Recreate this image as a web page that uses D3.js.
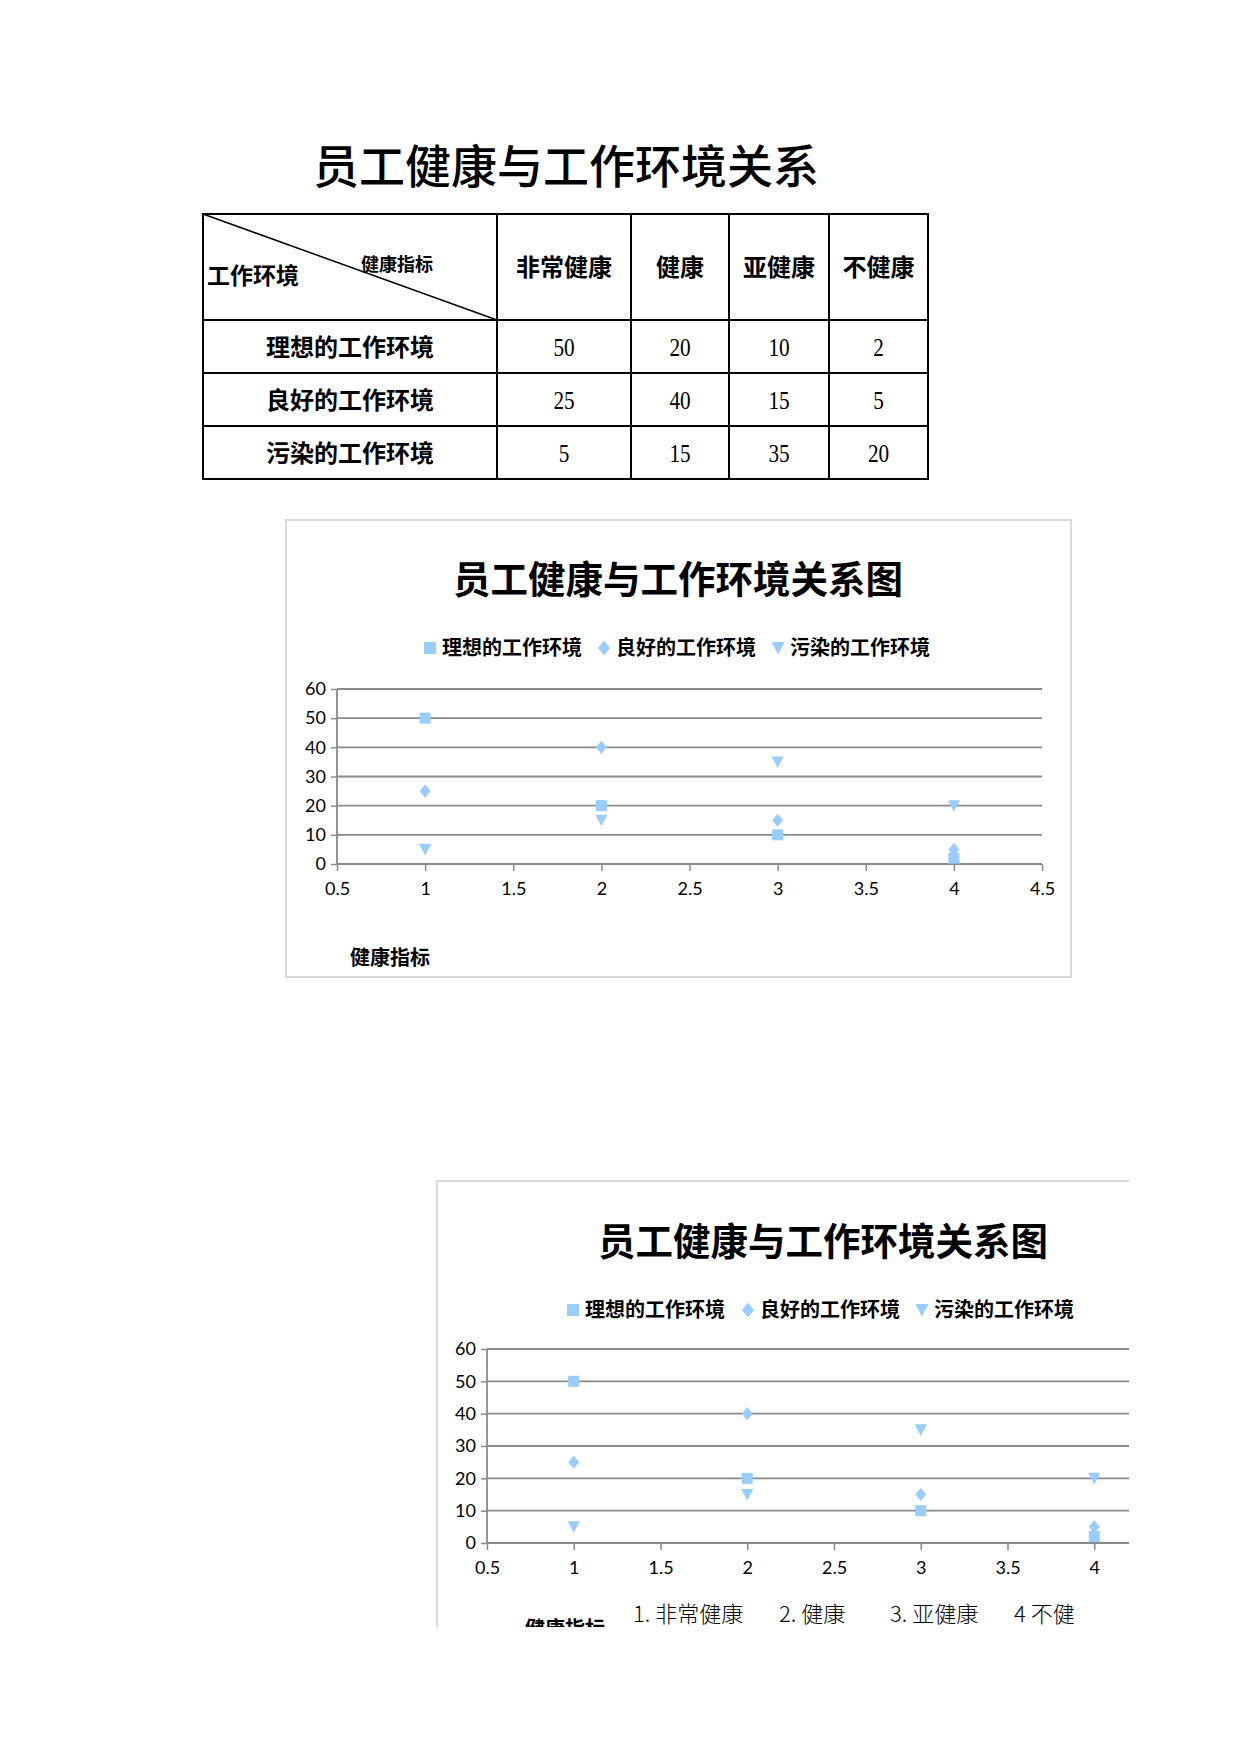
<!DOCTYPE html>
<html><head><meta charset="utf-8">
<script src="https://cdn.jsdelivr.net/npm/d3@7/dist/d3.min.js"></script>
<style>
html,body{margin:0;padding:0;background:#fff;}
svg{display:block;}
</style></head>
<body>
<svg id="page" width="1240" height="1754"></svg>
<script>
// ---- data ----
const pageTitle = "员工健康与工作环境关系";
const chartTitle = "员工健康与工作环境关系图";
const healthLevels = ["非常健康", "健康", "亚健康", "不健康"];
const environments = ["理想的工作环境", "良好的工作环境", "污染的工作环境"];
const idealValues = [50, 20, 10, 2];
const goodValues = [25, 40, 15, 5];
const pollutedValues = [5, 15, 35, 20];
const xPositions = [1, 2, 3, 4];
const xTicks = [0.5, 1, 1.5, 2, 2.5, 3, 3.5, 4, 4.5];
const yTicks = [0, 10, 20, 30, 40, 50, 60];
const axisTitle = "健康指标";
const cornerTop = "健康指标";
const cornerLeft = "工作环境";
const noteLabels = ["1. 非常健康", "2. 健康", "3. 亚健康", "4 不健"];

const seriesList = [
  {name: environments[0], values: idealValues, shape: "square"},
  {name: environments[1], values: goodValues, shape: "diamond"},
  {name: environments[2], values: pollutedValues, shape: "tri"}
];

const CJK = "'Noto Sans CJK SC','Noto Sans',sans-serif";
const LAT = "Lato,'Noto Sans',sans-serif";
const SERIF = "'Liberation Serif','DejaVu Serif',serif";
const MARK = "#99ccff";
const GRID = "#8a8a8a";

const svg = d3.select("#page");

// ---- page title ----
svg.append("text").attr("x", 566).attr("y", 183).attr("text-anchor", "middle")
  .attr("font-family", CJK).attr("font-weight", 500).attr("font-size", 46)
  .attr("fill", "#000").text(pageTitle);

// ---- table ----
const colEdges = [203, 497, 631, 729, 829, 928];
const rowEdges = [214, 320, 373, 426, 479];
const allRows = [idealValues, goodValues, pollutedValues];
const tg = svg.append("g");
tg.append("rect").attr("x", colEdges[0]).attr("y", rowEdges[0])
  .attr("width", colEdges[5] - colEdges[0]).attr("height", rowEdges[4] - rowEdges[0])
  .attr("fill", "none").attr("stroke", "#000").attr("stroke-width", 2);
colEdges.slice(1, 5).forEach(x => tg.append("line").attr("x1", x).attr("x2", x)
  .attr("y1", rowEdges[0]).attr("y2", rowEdges[4]).attr("stroke", "#000").attr("stroke-width", 2));
rowEdges.slice(1, 4).forEach(y => tg.append("line").attr("x1", colEdges[0]).attr("x2", colEdges[5])
  .attr("y1", y).attr("y2", y).attr("stroke", "#000").attr("stroke-width", 2));
tg.append("line").attr("x1", colEdges[0]).attr("y1", rowEdges[0]).attr("x2", colEdges[1]).attr("y2", rowEdges[1])
  .attr("stroke", "#000").attr("stroke-width", 1.5);
tg.append("text").attr("x", 361).attr("y", 271).attr("font-family", CJK).attr("font-weight", 700)
  .attr("font-size", 18).text(cornerTop);
tg.append("text").attr("x", 207).attr("y", 284).attr("font-family", CJK).attr("font-weight", 700)
  .attr("font-size", 23).text(cornerLeft);
healthLevels.forEach((h, i) => {
  tg.append("text").attr("x", (colEdges[i + 1] + colEdges[i + 2]) / 2).attr("y", 276)
    .attr("text-anchor", "middle").attr("font-family", CJK).attr("font-weight", 700)
    .attr("font-size", 24).text(h);
});
environments.forEach((e, r) => {
  const cy = (rowEdges[r + 1] + rowEdges[r + 2]) / 2;
  tg.append("text").attr("x", (colEdges[0] + colEdges[1]) / 2).attr("y", cy + 9)
    .attr("text-anchor", "middle").attr("font-family", CJK).attr("font-weight", 700)
    .attr("font-size", 24).text(e);
  allRows[r].forEach((v, c) => {
    const cx = (colEdges[c + 1] + colEdges[c + 2]) / 2;
    tg.append("text").attr("x", 0).attr("y", 0)
      .attr("text-anchor", "middle").attr("font-family", SERIF)
      .attr("font-size", 25)
      .attr("transform", `translate(${cx},${cy + 9}) scale(0.85,1)`).text(v);
  });
});

// ---- marker helper ----
function drawMarker(g, shape, x, y, s) {
  if (shape === "diamond") {
    g.append("path").attr("d", `M${x},${y - s * 0.6}L${x + s * 0.5},${y}L${x},${y + s * 0.6}L${x - s * 0.5},${y}Z`).attr("fill", MARK);
  } else if (shape === "tri") {
    g.append("path").attr("d", `M${x - s * 0.55},${y - s * 0.5}L${x + s * 0.55},${y - s * 0.5}L${x},${y + s * 0.55}Z`).attr("fill", MARK);
  } else {
    g.append("rect").attr("x", x - s / 2).attr("y", y - s / 2).attr("width", s).attr("height", s).attr("fill", MARK);
  }
}

// ---- chart drawer ----
function drawChart(cfg) {
  const g = svg.append("g");
  if (cfg.clip) {
    const id = "clip" + cfg.id;
    svg.append("defs").append("clipPath").attr("id", id).append("rect")
      .attr("x", 0).attr("y", 0).attr("width", cfg.clip.w).attr("height", cfg.clip.h);
    g.attr("clip-path", `url(#${id})`);
  }
  g.append("rect").attr("x", cfg.box.x).attr("y", cfg.box.y).attr("width", cfg.box.w).attr("height", cfg.box.h)
    .attr("fill", "#fff").attr("stroke", "#d9d9d9").attr("stroke-width", 2);
  g.append("text").attr("x", cfg.titleX).attr("y", cfg.titleY).attr("text-anchor", "middle")
    .attr("font-family", CJK).attr("font-weight", 700).attr("font-size", 37.5).text(chartTitle);
  seriesList.forEach((s, i) => {
    const lx = cfg.legendX[i];
    drawMarker(g, s.shape, lx, cfg.legendY, 12);
    g.append("text").attr("x", lx + 12).attr("y", cfg.legendY + 7).attr("font-family", CJK)
      .attr("font-weight", 700).attr("font-size", 20).text(s.name);
  });
  const x = d3.scaleLinear().domain([0.5, 4.5]).range([cfg.x0, cfg.x1]);
  const y = d3.scaleLinear().domain([0, 60]).range([cfg.y0, cfg.y1]);
  g.append("g").selectAll("line").data(yTicks.slice(1)).join("line")
    .attr("x1", cfg.x0).attr("x2", cfg.gridEnd).attr("y1", d => y(d)).attr("y2", d => y(d))
    .attr("stroke", GRID).attr("stroke-width", 1.8);
  const ya = g.append("g").attr("transform", `translate(${cfg.x0},0)`)
    .call(d3.axisLeft(y).tickValues(yTicks).tickSize(6).tickPadding(5).tickFormat(d3.format("d")));
  ya.select(".domain").attr("stroke", GRID).attr("stroke-width", 1.8).attr("d", `M-0,${cfg.y0}V${cfg.y1}`);
  ya.selectAll(".tick line").attr("stroke", GRID).attr("stroke-width", 1.5);
  ya.selectAll("text").attr("font-family", LAT).attr("font-size", 18).attr("fill", "#000");
  const xa = g.append("g").attr("transform", `translate(0,${cfg.y0})`)
    .call(d3.axisBottom(x).tickValues(xTicks).tickSize(7).tickPadding(11).tickFormat(d => String(d)));
  xa.select(".domain").attr("stroke", GRID).attr("stroke-width", 1.8).attr("d", `M${cfg.x0},0H${cfg.gridEnd}`);
  xa.selectAll(".tick line").attr("stroke", GRID).attr("stroke-width", 1.5);
  xa.selectAll("text").attr("font-family", LAT).attr("font-size", 18).attr("fill", "#000");
  seriesList.forEach(s => {
    s.values.forEach((v, i) => drawMarker(g, s.shape, x(xPositions[i]), y(v), 11));
  });
  g.append("text").attr("x", cfg.axisTitleX).attr("y", cfg.axisTitleY).attr("font-family", CJK)
    .attr("font-weight", 700).attr("font-size", 20).text(axisTitle);
  return {g, x};
}

drawChart({
  id: 1, box: {x: 286, y: 520, w: 785, h: 457},
  titleX: 678, titleY: 593, legendX: [430, 604, 778], legendY: 648,
  x0: 337, x1: 1042, gridEnd: 1042, y0: 864, y1: 689,
  axisTitleX: 350, axisTitleY: 965
});

const c2 = drawChart({
  id: 2, clip: {w: 1129, h: 1627}, box: {x: 437, y: 1181, w: 760, h: 480},
  titleX: 823, titleY: 1255, legendX: [573, 748, 922], legendY: 1310,
  x0: 487, x1: 1181, gridEnd: 1129, y0: 1543, y1: 1349,
  axisTitleX: 525, axisTitleY: 1636
});
const notesX = [633, 779, 890, 1014];
noteLabels.forEach((t, i) => {
  c2.g.append("text").attr("x", notesX[i]).attr("y", 1622).attr("font-family", CJK)
    .attr("font-weight", 300).attr("font-size", 22).attr("fill", "#000").text(t);
});
</script>
</body></html>
